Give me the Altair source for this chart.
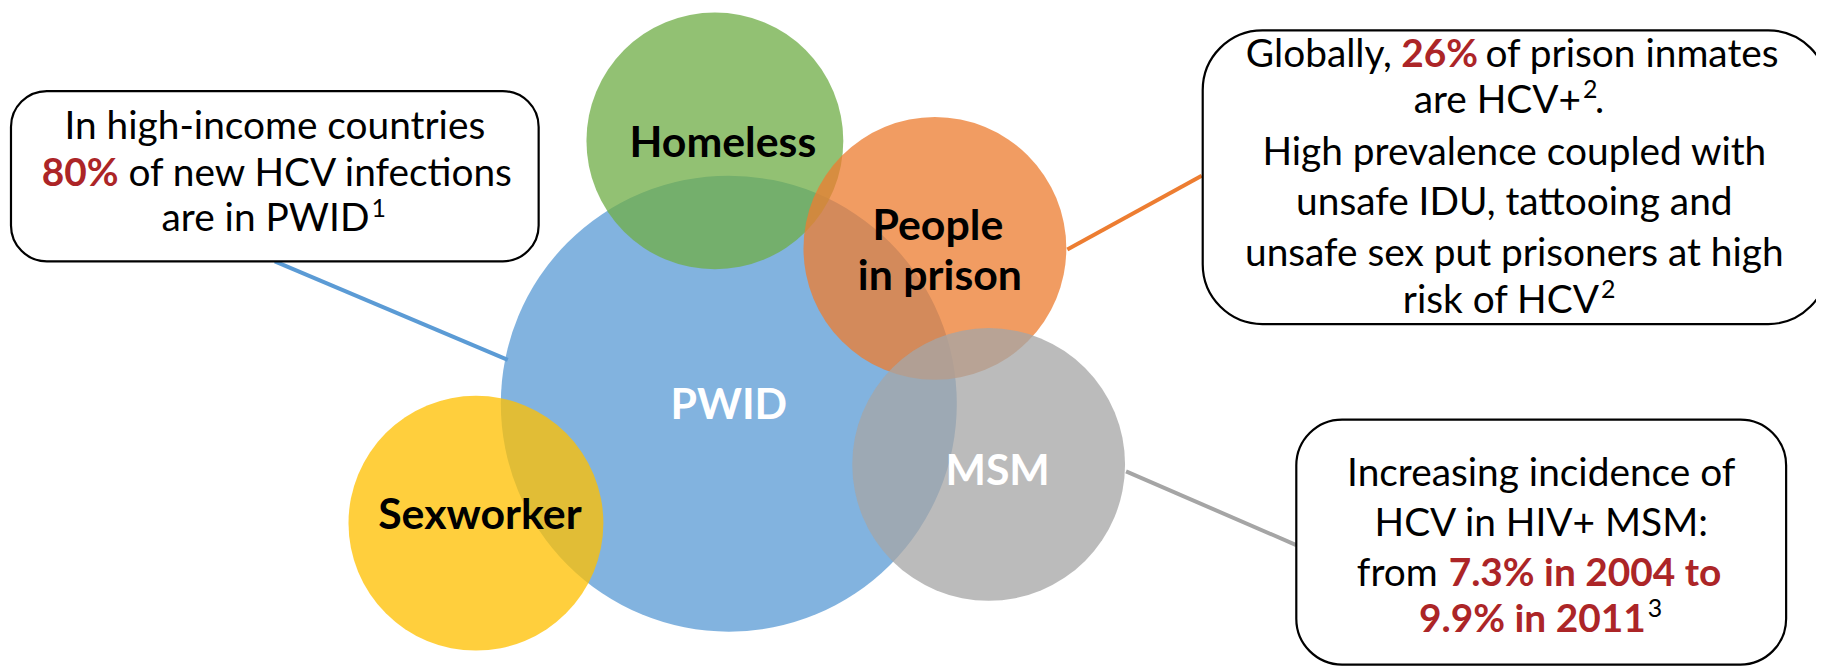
import altair as alt
import pandas as pd

# ---------------- data ----------------
circle_names = ["PWID", "Homeless", "People in prison", "MSM", "Sexworker"]
circle_cx = [732, 718, 939, 993, 478]
circle_cy = [404, 140, 248, 465, 524]
circle_r = [229, 129, 132, 137, 128]
circle_fill = ["#5B9BD5", "#70AD47", "#ED7D31", "#A5A5A5", "#FFC000"]

# circle labels
label_text = ["PWID", "Homeless", "People", "in prison", "MSM", "Sexworker"]
label_x = [732, 726, 942, 944, 1002, 482]
label_y = [406, 143, 227, 277, 473, 517]
label_color = ["white", "black", "black", "black", "white", "black"]

# connector lines
line_x1 = [276, 1072, 1131]
line_y1 = [261, 249, 472]
line_x2 = [510, 1207, 1302]
line_y2 = [360, 175, 546]
line_color = ["#5B9BD5", "#ED7D31", "#A5A5A5"]

# callout boxes
box_x1 = [11, 1208, 1302]
box_x2 = [541, 1836, 1794]
box_y1 = [90, 29, 420]
box_y2 = [261, 324, 666]
box_radius = [36, 60, 46]

# callout text segments (main text)
seg_text = [
    "In high-income countries",
    "80%", "of new HCV infections",
    "are in PWID",
    "Globally,", "26%", "of prison inmates",
    "are HCV+", ".",
    "High prevalence coupled with",
    "unsafe IDU, tattooing and",
    "unsafe sex put prisoners at high",
    "risk of HCV",
    "Increasing incidence of",
    "HCV in HIV+ MSM:",
    "from", "7.3% in 2004 to",
    "9.9% in 2011",
]
seg_x = [276, 119, 129, 371,
         1398, 1446, 1492, 1588, 1602, 1521, 1521, 1521, 1606,
         1548, 1548, 1444, 1455, 1653]
seg_y = [126, 173, 173, 219,
         54, 54, 54, 100, 100, 152, 202, 254, 301,
         475, 525, 575, 575, 621]
seg_align = ["center", "right", "left", "right",
             "right", "center", "left", "right", "left", "center", "center", "center", "right",
             "center", "center", "right", "left", "right"]
seg_bold = [False, True, False, False,
            False, True, False, False, False, False, False, False, False,
            False, False, False, True, True]

# superscript reference numbers
sup_text = ["1", "2", "2", "3"]
sup_x = [373, 1590, 1608, 1655]
sup_y = [219, 100, 301, 621]

RED = "#AC2527"
NORMAL_SIZE = 39
SUP_SIZE = 25
LABEL_SIZE = 43

# ---------------- build ----------------
W, H = 1816, 661
xs = alt.Scale(domain=[8, 8 + W], nice=False, zero=False)
ys = alt.Scale(domain=[8, 8 + H], nice=False, zero=False, reverse=True)


def X(f="x"):
    return alt.X(f"{f}:Q", scale=xs, axis=None)


def Y(f="y"):
    return alt.Y(f"{f}:Q", scale=ys, axis=None)


circles = pd.DataFrame({
    "name": circle_names, "x": circle_cx, "y": circle_cy,
    "area": [(2 * r) ** 2 for r in circle_r], "fill": circle_fill,
    "order": list(range(len(circle_names))),
})
circle_layer = alt.Chart(circles).mark_circle(opacity=0.76, strokeWidth=0).encode(
    x=X(), y=Y(),
    size=alt.Size("area:Q", scale=None, legend=None),
    color=alt.Color("fill:N", scale=None, legend=None),
    order=alt.Order("order:Q"),
)

labels = pd.DataFrame({"t": label_text, "x": label_x, "y": label_y, "c": label_color})
label_layer = alt.Chart(labels).mark_text(
    font="Lato", fontWeight="bold", fontSize=LABEL_SIZE, baseline="middle", align="center"
).encode(x=X(), y=Y(), text="t:N", color=alt.Color("c:N", scale=None, legend=None))

lines = pd.DataFrame({"x": line_x1, "y": line_y1, "x2": line_x2, "y2": line_y2, "c": line_color})
line_layer = alt.Chart(lines).mark_rule(strokeWidth=4).encode(
    x=X(), y=Y(), x2="x2:Q", y2="y2:Q", color=alt.Color("c:N", scale=None, legend=None)
)

box_layers = []
for i in range(len(box_x1)):
    bdf = pd.DataFrame({"x": [box_x1[i]], "x2": [box_x2[i]], "y": [box_y1[i]], "y2": [box_y2[i]]})
    box_layers.append(
        alt.Chart(bdf).mark_rect(
            fill="white", stroke="black", strokeWidth=2.2, cornerRadius=box_radius[i]
        ).encode(x=X(), x2="x2:Q", y=Y(), y2="y2:Q")
    )

segs = pd.DataFrame({
    "t": seg_text, "x": seg_x, "y": seg_y, "align": seg_align,
    "bold": seg_bold, "c": [RED if b else "black" for b in seg_bold],
})
text_layers = []
for (al, bd), grp in segs.groupby(["align", "bold"]):
    text_layers.append(
        alt.Chart(grp).mark_text(
            font="Lato", fontWeight="bold" if bd else "normal", fontSize=NORMAL_SIZE,
            baseline="middle", align=al,
        ).encode(x=X(), y=Y(), text="t:N", color=alt.Color("c:N", scale=None, legend=None))
    )

sups = pd.DataFrame({"t": sup_text, "x": sup_x, "y": sup_y})
sup_layer = alt.Chart(sups).mark_text(
    font="Lato", fontSize=SUP_SIZE, baseline="middle", align="left", dy=-11, color="black"
).encode(x=X(), y=Y(), text="t:N")

chart = alt.layer(
    line_layer, circle_layer, label_layer, *box_layers, *text_layers, sup_layer
).properties(
    width=W, height=H, padding=0, autosize=alt.AutoSizeParams(type="none"),
    background="white",
).configure_view(stroke=None)

chart.save("out.html", embed_options={"renderer": "svg", "actions": False})
